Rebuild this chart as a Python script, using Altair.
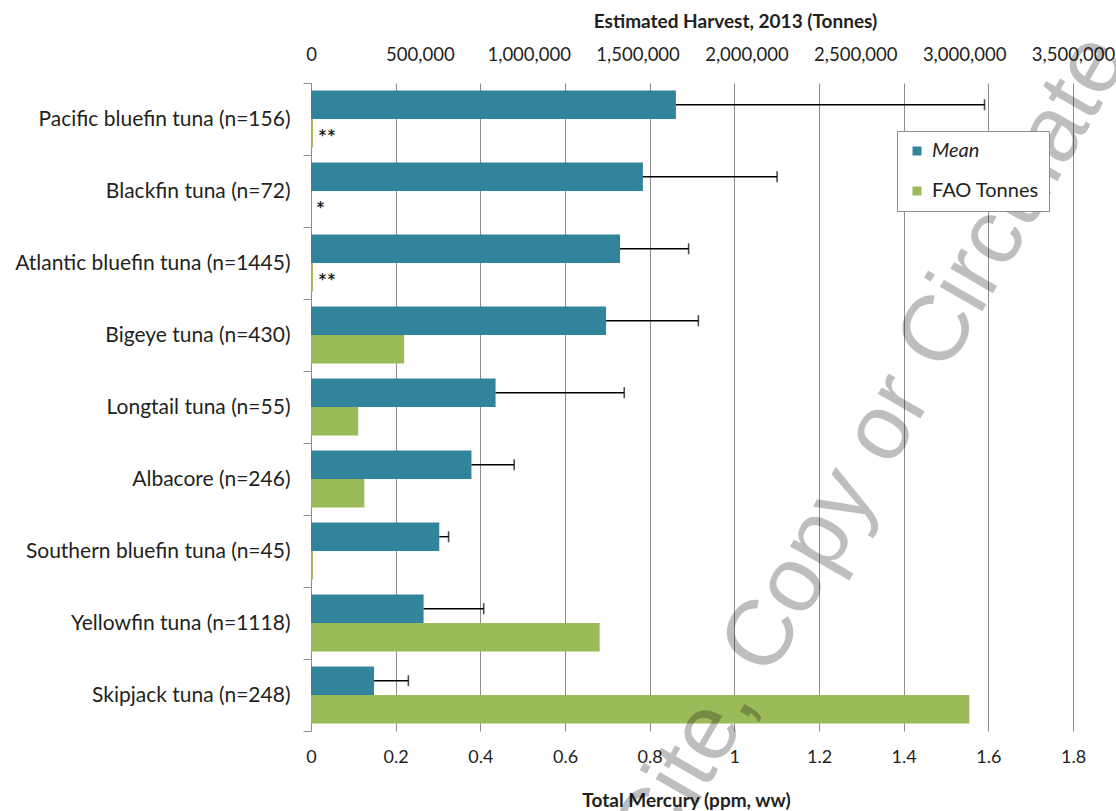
import altair as alt
import pandas as pd

# Species (with sample sizes), in plotting order from top to bottom
species = [
    "Pacific bluefin tuna (n=156)",
    "Blackfin tuna (n=72)",
    "Atlantic bluefin tuna (n=1445)",
    "Bigeye tuna (n=430)",
    "Longtail tuna (n=55)",
    "Albacore (n=246)",
    "Southern bluefin tuna (n=45)",
    "Yellowfin tuna (n=1118)",
    "Skipjack tuna (n=248)",
]

# Total mercury, ppm wet weight: mean and mean + 1 SD
mean_hg = [0.862, 0.784, 0.730, 0.697, 0.436, 0.379, 0.303, 0.266, 0.149]
upper_hg = [1.591, 1.101, 0.892, 0.915, 0.740, 0.480, 0.325, 0.408, 0.230]

# FAO estimated harvest for 2013, tonnes
fao_tonnes = [9000, 0, 9000, 428000, 217000, 245000, 9000, 1326000, 3024000]
fao_notes = ["**", "*", "**", "", "", "", "", "", ""]

series = ["Mean", "FAO Tonnes"]
series_colors = ["#31849B", "#9BBB59"]

hg_ticks = [0, 0.2, 0.4, 0.6, 0.8, 1.0, 1.2, 1.4, 1.6, 1.8]
tonne_ticks = [0, 500000, 1000000, 1500000, 2000000, 2500000, 3000000, 3500000]

FONT = "Lato"
INK = "#231F20"
GRID = "#8C8C8C"

mean_df = pd.DataFrame({"species": species, "series": "Mean", "hg": mean_hg, "upper": upper_hg})
fao_df = pd.DataFrame({"species": species, "series": "FAO Tonnes", "tonnes": fao_tonnes, "note": fao_notes})

y_enc = alt.Y(
    "species:N",
    sort=species,
    scale=alt.Scale(paddingInner=0, paddingOuter=0),
    axis=alt.Axis(
        title=None,
        tickBand="extent",
        tickSize=8,
        tickColor=GRID,
        domainColor=GRID,
        grid=False,
        labelFont=FONT,
        labelFontSize=21,
        labelColor=INK,
        labelPadding=13,
        labelLimit=0,
    ),
)
y_off = alt.YOffset(
    "series:N",
    sort=series,
    scale=alt.Scale(domain=series, paddingInner=0, paddingOuter=0.26),
)
color_enc = alt.Color(
    "series:N",
    scale=alt.Scale(domain=series, range=series_colors),
    legend=alt.Legend(
        title=None,
        orient="none",
        legendX=586,
        legendY=48,
        padding=10,
        strokeColor=GRID,
        fillColor="white",
        symbolType="square",
        symbolSize=81,
        symbolStrokeWidth=0,
        labelFont=FONT,
        labelFontSize=20,
        labelColor=INK,
        labelOffset=5,
        rowPadding=20,
        labelFontStyle={"expr": "datum.value == 'Mean' ? 'italic' : 'normal'"},
    ),
)

hg_scale = alt.Scale(domain=[0, 1.8], nice=False, zero=True)
tonne_scale = alt.Scale(domain=[0, 3500000], nice=False, zero=True)

# Mean mercury bars with +1 SD error bars, on the bottom axis
mean_bars = alt.Chart(mean_df).mark_bar(color=series_colors[0]).encode(
    x=alt.X(
        "hg:Q",
        scale=hg_scale,
        axis=alt.Axis(
            orient="bottom",
            values=hg_ticks,
            format="~g",
            title="Total Mercury (ppm, ww)",
            grid=True,
            gridColor=GRID,
            gridWidth=1,
            domain=False,
            ticks=False,
            tickSize=0,
            labelFont=FONT,
            labelFontSize=18,
            labelColor=INK,
            labelPadding=17,
            labelFlush=False,
            labelOverlap=False,
            titleFont=FONT,
            titleFontSize=19,
            titleFontWeight="bold",
            titleColor=INK,
            titleBaseline="middle",
            titleX=375,
            titleY=69,
        ),
    ),
    y=y_enc,
    yOffset=y_off,
    color=color_enc,
)
err_rule = alt.Chart(mean_df).mark_rule(color="black", strokeWidth=1.4).encode(
    x=alt.X("hg:Q", scale=hg_scale),
    x2="upper:Q",
    y=y_enc,
    yOffset=y_off,
)
err_cap = alt.Chart(mean_df).mark_tick(color="black", thickness=1.6, size=11, orient="vertical").encode(
    x=alt.X("upper:Q", scale=hg_scale),
    y=y_enc,
    yOffset=y_off,
)
mean_layer = alt.layer(mean_bars, err_rule, err_cap)

# FAO harvest bars on the top axis, with footnote markers
fao_bars = alt.Chart(fao_df).mark_bar(color=series_colors[1]).encode(
    x=alt.X(
        "tonnes:Q",
        scale=tonne_scale,
        axis=alt.Axis(
            orient="top",
            values=tonne_ticks,
            format=",d",
            title="Estimated Harvest, 2013  (Tonnes)",
            grid=False,
            domain=False,
            ticks=False,
            tickSize=0,
            labelFont=FONT,
            labelFontSize=18.5,
            labelColor=INK,
            labelPadding=19,
            labelFlush=False,
            labelOverlap=False,
            titleFont=FONT,
            titleFontSize=19,
            titleFontWeight="bold",
            titleColor=INK,
            titleBaseline="middle",
            titleX=424,
            titleY=-62,
        ),
    ),
    y=y_enc,
    yOffset=y_off,
    color=color_enc,
)
fao_notes_text = alt.Chart(fao_df).mark_text(
    align="left", baseline="middle", dx=5, dy=6, font=FONT, fontSize=21, fontWeight="bold", color=INK
).encode(
    x=alt.X("tonnes:Q", scale=tonne_scale),
    y=y_enc,
    yOffset=y_off,
    text="note:N",
)
fao_layer = alt.layer(fao_bars, fao_notes_text)

# Draft stamp across the figure
stamp = alt.Chart(pd.DataFrame({"stamp": ["Do Not Cite, Copy or Circulate"]})).mark_text(
    angle=300,
    align="right",
    baseline="middle",
    font="Liberation Sans",
    fontSize=93,
    color="black",
    opacity=0.25,
).encode(text="stamp:N", x=alt.value(794), y=alt.value(-40))

chart = (
    alt.layer(mean_layer, fao_layer, stamp)
    .resolve_scale(x="independent")
    .properties(
        width=762,
        height=648,
        autosize=alt.AutoSizeParams(type="none"),
        padding={"left": 311, "top": 83, "right": 43, "bottom": 80},
        background="white",
    )
    .configure_view(stroke=None)
)

chart.save("out.html", embed_options={"renderer": "svg", "actions": False})
